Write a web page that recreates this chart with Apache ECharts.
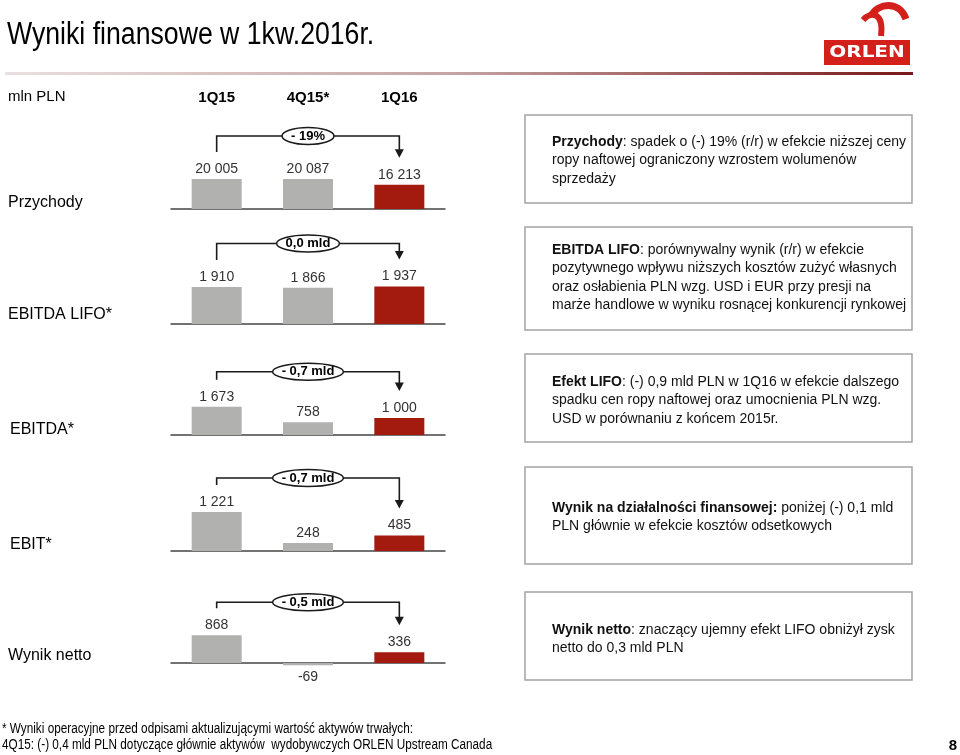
<!DOCTYPE html>
<html><head><meta charset="utf-8">
<script src="https://cdn.jsdelivr.net/npm/echarts@6/dist/echarts.min.js"></script>
<style>html,body{margin:0;padding:0;background:#fff}#c{width:960px;height:755px}</style>
</head><body><div id="c"></div>
<script>
// ---------- data ----------
const title = 'Wyniki finansowe w 1kw.2016r.';
const unitLabel = 'mln PLN';
const categories = ['1Q15', '4Q15*', '1Q16'];
const rowNames = ['Przychody', 'EBITDA LIFO*', 'EBITDA*', 'EBIT*', 'Wynik netto'];
const przychody = [20005, 20087, 16213];
const ebitdaLifo = [1910, 1866, 1937];
const ebitda = [1673, 758, 1000];
const ebit = [1221, 248, 485];
const wynikNetto = [868, -69, 336];
const changeLabels = ['- 19%', '0,0 mld', '- 0,7 mld', '- 0,7 mld', '- 0,5 mld'];
const comments = [
  '{b|Przychody}: spadek o (-) 19% (r/r) w efekcie niższej ceny\nropy naftowej ograniczony wzrostem wolumenów\nsprzedaży',
  '{b|EBITDA LIFO}: porównywalny wynik (r/r) w efekcie\npozytywnego wpływu niższych kosztów zużyć własnych\noraz osłabienia PLN wzg. USD i EUR przy presji na\nmarże handlowe w wyniku rosnącej konkurencji rynkowej',
  '{b|Efekt LIFO}: (-) 0,9 mld PLN w 1Q16 w efekcie dalszego\nspadku cen ropy naftowej oraz umocnienia PLN wzg.\nUSD w porównaniu z końcem 2015r.',
  '{b|Wynik na działalności finansowej:} poniżej (-) 0,1 mld\nPLN głównie w efekcie kosztów odsetkowych',
  '{b|Wynik netto}: znaczący ujemny efekt LIFO obniżył zysk\nnetto do 0,3 mld PLN'
];
const footnotes = [
  '* Wyniki operacyjne przed odpisami aktualizującymi wartość aktywów trwałych:',
  '4Q15: (-) 0,4 mld PLN dotyczące głównie aktywów  wydobywczych ORLEN Upstream Canada'
];
const pageNumber = '8';
const logoText = 'ORLEN';

const rowsData = [przychody, ebitdaLifo, ebitda, ebit, wynikNetto];

// ---------- layout ----------
const FONT = '"Liberation Sans", Arial, sans-serif';
const GRAY = '#b1b1af';
const RED = '#a31b0f';
const layout = [
  { base: 209, up: 40, down: 0,  max: 26673, min: 0,    rise: 16, lx: 8,  ly: 203, boxY: 115, boxH: 88,  textY: 142 },
  { base: 324, up: 40, down: 0,  max: 2065,  min: 0,    rise: 16, lx: 8,  ly: 315, boxY: 227, boxH: 103, textY: 250 },
  { base: 435, up: 40, down: 0,  max: 2365,  min: 0,    rise: 8,  lx: 10, ly: 430, boxY: 354, boxH: 88,  textY: 382 },
  { base: 551, up: 40, down: 0,  max: 1252,  min: 0,    rise: 7,  lx: 10, ly: 545, boxY: 467, boxH: 97,  textY: 508 },
  { base: 663, up: 40, down: 10, max: 1253,  min: -313, rise: 6,  lx: 8,  ly: 656, boxY: 592, boxH: 88,  textY: 630 }
];

function fmt(v) {
  const s = Math.abs(v).toString().replace(/\B(?=(\d{3})+(?!\d))/g, ' ');
  return (v < 0 ? '-' : '') + s;
}

const chart = echarts.init(document.getElementById('c'));

const grids = layout.map(l => ({ left: 171, width: 274, top: l.base - l.up, height: l.up + l.down }));
const xAxes = layout.map((l, i) => ({
  type: 'category', gridIndex: i, data: categories,
  axisLine: { show: true, onZero: true, lineStyle: { color: '#444', width: 1.5 } },
  axisTick: { show: false }, axisLabel: { show: false }, splitLine: { show: false }
}));
const yAxes = layout.map((l, i) => ({
  type: 'value', gridIndex: i, min: l.min, max: l.max, show: false, splitLine: { show: false }
}));
const series = rowsData.map((d, i) => ({
  type: 'bar', xAxisIndex: i, yAxisIndex: i, barWidth: 50, silent: true, animation: false,
  data: d.map((v, j) => ({
    value: v,
    itemStyle: { color: j === 2 ? RED : GRAY },
    label: { position: v < 0 ? 'bottom' : 'top', distance: v < 0 ? 5 : 3 }
  })),
  label: { show: true, fontSize: 14, color: '#333', fontFamily: FONT, formatter: p => fmt(p.value) }
}));

chart.setOption({
  animation: false,
  grid: grids, xAxis: xAxes, yAxis: yAxes, series: series
});

// ---------- annotations ----------
const ctx = document.createElement('canvas').getContext('2d');
function measure(t, font) { ctx.font = font; return ctx.measureText(t).width; }

const g = [];
// title
g.push({ type: 'text', x: 7, y: 35, scaleX: 0.86, silent: true,
  style: { text: title, fill: '#000', fontSize: 31, fontFamily: FONT, verticalAlign: 'middle', align: 'left' } });
// gradient rule
g.push({ type: 'rect', silent: true, shape: { x: 5, y: 72, width: 908, height: 3 },
  style: { fill: new echarts.graphic.LinearGradient(0, 0, 1, 0, [
    { offset: 0, color: '#eadfdf' }, { offset: 0.5, color: '#c4a3a3' }, { offset: 1, color: '#7a1717' }]) } });
// logo
g.push({ type: 'rect', silent: true, shape: { x: 824, y: 40, width: 86, height: 25 }, style: { fill: '#d3201a' } });
g.push({ type: 'text', x: 867, y: 53, scaleX: 1.25, silent: true,
  style: { text: logoText, fill: '#fff', fontSize: 16, fontWeight: 'bold', fontFamily: '"DejaVu Sans", sans-serif', align: 'center', verticalAlign: 'middle' } });
g.push({ type: 'bezierCurve', silent: true,
  shape: { x1: 871, y1: 16, cpx1: 878, cpy1: 3, cpx2: 899, cpy2: 0, x2: 906, y2: 19 },
  style: { fill: null, stroke: '#d3201a', lineWidth: 7 } });
g.push({ type: 'bezierCurve', silent: true,
  shape: { x1: 863, y1: 20, cpx1: 871, cpy1: 11, cpx2: 884, cpy2: 12, x2: 881, y2: 36 },
  style: { fill: null, stroke: '#d3201a', lineWidth: 6 } });
// unit label + headers
g.push({ type: 'text', x: 8, y: 97, silent: true,
  style: { text: unitLabel, fill: '#000', fontSize: 15, fontFamily: FONT, verticalAlign: 'middle' } });
categories.forEach((c, j) => {
  const px = chart.convertToPixel({ gridIndex: 0 }, [j, 0]);
  g.push({ type: 'text', x: px[0], y: 98, silent: true,
    style: { text: c, fill: '#000', fontSize: 15, fontWeight: 'bold', fontFamily: FONT, align: 'center', verticalAlign: 'middle' } });
});

rowsData.forEach((d, i) => {
  const l = layout[i];
  // row label
  g.push({ type: 'text', x: l.lx, y: l.ly, silent: true,
    style: { text: rowNames[i], fill: '#000', fontSize: 16, fontFamily: FONT, verticalAlign: 'middle' } });
  // connector
  const p0 = chart.convertToPixel({ gridIndex: i }, [0, d[0]]);
  const p2 = chart.convertToPixel({ gridIndex: i }, [2, d[2]]);
  const startY = p0[1] - 27;
  const tipY = p2[1] - 27;
  const by = Math.min(startY, tipY) - l.rise;
  g.push({ type: 'polyline', silent: true, z: 10,
    shape: { points: [[p0[0], startY], [p0[0], by], [p2[0], by], [p2[0], tipY - 8]] },
    style: { fill: null, stroke: '#1a1a1a', lineWidth: 1.6 } });
  g.push({ type: 'polygon', silent: true, z: 10,
    shape: { points: [[p2[0] - 4.5, tipY - 8.5], [p2[0] + 4.5, tipY - 8.5], [p2[0], tipY]] },
    style: { fill: '#1a1a1a' } });
  const cx = (p0[0] + p2[0]) / 2;
  const tw = measure(changeLabels[i], 'bold 13px "Liberation Sans"');
  g.push({ type: 'ellipse', silent: true, z: 11,
    shape: { cx: cx, cy: by, rx: tw / 2 + 9, ry: 8.5 },
    style: { fill: '#fff', stroke: '#1a1a1a', lineWidth: 1.5 } });
  g.push({ type: 'text', silent: true, z: 12, x: cx, y: by,
    style: { text: changeLabels[i], fill: '#000', fontSize: 13, fontWeight: 'bold', fontFamily: FONT, align: 'center', verticalAlign: 'middle' } });
  // comment box
  g.push({ type: 'rect', silent: true, shape: { x: 525, y: l.boxY, width: 387, height: l.boxH },
    style: { fill: '#fff', stroke: '#a3a3a3', lineWidth: 1.5 } });
  g.push({ type: 'text', silent: true, x: 552, y: l.textY - 9.25,
    style: { text: comments[i], fill: '#111', fontSize: 14, fontFamily: FONT, lineHeight: 18.5, verticalAlign: 'top',
      rich: { b: { fontSize: 14, fontWeight: 'bold', fontFamily: FONT, fill: '#111', lineHeight: 18.5 } } } });
});

// footnotes
footnotes.forEach((t, k) => {
  g.push({ type: 'text', silent: true, x: 2, y: 729 + k * 16, scaleX: 0.84,
    style: { text: t, fill: '#000', fontSize: 14, fontFamily: FONT, verticalAlign: 'middle' } });
});
g.push({ type: 'text', silent: true, x: 957, y: 746,
  style: { text: pageNumber, fill: '#000', fontSize: 15, fontWeight: 'bold', fontFamily: FONT, align: 'right', verticalAlign: 'middle' } });

chart.setOption({ graphic: g });
</script>
</body></html>
